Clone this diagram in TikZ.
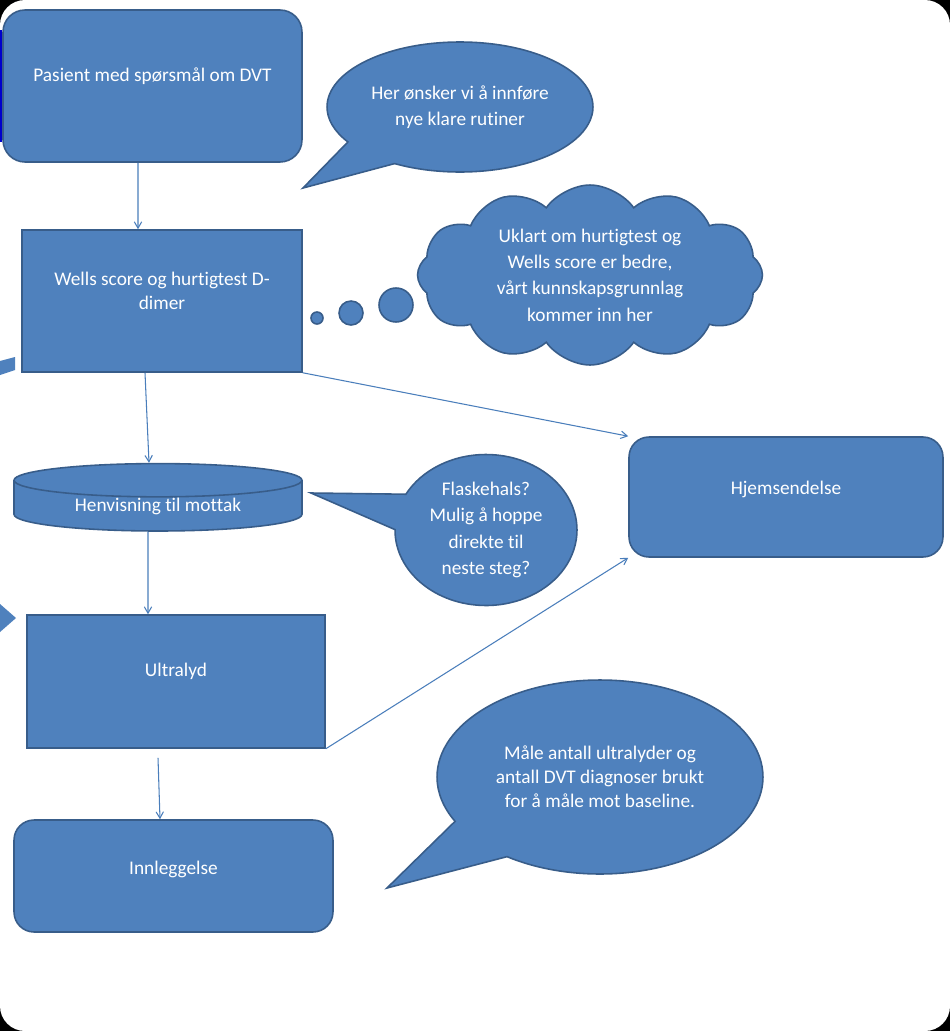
\documentclass[tikz,border=0pt]{standalone}
\usepackage{fontspec}
\setmainfont{Carlito}[Ligatures={NoCommon,NoRare,NoContextual},RawFeature={-liga;-clig;-calt}]
\usepackage{tikz}
\usetikzlibrary{shapes.geometric, shapes.symbols, shapes.callouts, positioning, arrows}
\definecolor{boxblue}{HTML}{4F81BD}
\definecolor{boxline}{HTML}{385D8A}
\definecolor{arrowblue}{HTML}{4A7EBB}

\begin{document}
\begin{tikzpicture}[x=0.02cm,y=-0.02cm,>=angle 60,
    main node/.style={draw=boxline,fill=boxblue,line width=0.9pt,text=white,align=center,inner sep=0pt,
                      font=\fontsize{11}{13.6}\selectfont},
    round node/.style={main node,rectangle,rounded corners=0.44cm},
    talk node/.style={main node,ellipse callout,callout pointer arc=28,font=\fontsize{11}{15}\selectfont},
    dot node/.style={main node,circle}]

        % page with black corners
        \fill[black] (0,0) rectangle (950,1031);
        \fill[white,rounded corners=0.5cm] (0,0) rectangle (950,1031);
        \useasboundingbox (0,0) rectangle (950,1031);

        % cut off bits at the left edge
        \fill[blue!80!black] (0,30) rectangle (2,142);
        \fill[boxblue] (0,361) -- (15,357) -- (15,370) -- (0,375) -- cycle;
        \fill[boxblue] (0,604) -- (16,618) -- (0,632) -- cycle;

        \node[round node,minimum width=5.98cm,minimum height=3.04cm,text depth=0.44cm] (1) at (152.5,86) {Pasient med spørsmål om DVT};
        \node[main node,rectangle,minimum width=5.6cm,minimum height=2.84cm,text depth=0.4cm] (2) at (162,301) {Wells score og hurtigtest D-\\dimer};
        \node[main node,cylinder,shape border rotate=90,aspect=0.2,minimum width=5.76cm,minimum height=1.34cm] (3) at (158,506) {Henvisning til mottak};
        \node[round node,rounded corners=0.4cm,minimum width=6.28cm,minimum height=2.4cm,text depth=0.36cm] (4) at (786,497) {Hjemsendelse};
        \node[main node,rectangle,minimum width=5.96cm,minimum height=2.66cm,text depth=0.46cm] (5) at (176,681.5) {Ultralyd};
        \node[round node,rounded corners=0.4cm,minimum width=6.38cm,minimum height=2.24cm,text depth=0.32cm] (6) at (173.5,876) {Innleggelse};

        \node[talk node,minimum width=5.32cm,minimum height=2.6cm,callout absolute pointer={(303,188)}] (t1) at (460,107) {Her ønsker vi å innføre\\nye klare rutiner};
        \node[main node,cloud,cloud puffs=12,cloud puff arc=110,aspect=1.9,minimum width=6.9cm,minimum height=3.6cm,
              font=\fontsize{11}{15}\selectfont] (t2) at (590,275) {Uklart om hurtigtest og\\Wells score er bedre,\\vårt kunnskapsgrunnlag\\kommer inn her};
        \node[dot node,minimum size=0.68cm] (d3) at (396,305) {};
        \node[dot node,minimum size=0.48cm] (d2) at (351,313) {};
        \node[dot node,minimum size=0.24cm] (d1) at (317,318) {};
        \node[talk node,minimum width=3.64cm,minimum height=3.02cm,callout absolute pointer={(311,493)}] (t3) at (486,530) {Flaskehals?\\Mulig å hoppe\\direkte til\\neste steg?};
        \node[talk node,font=\fontsize{11}{13.6}\selectfont,minimum width=6.52cm,minimum height=3.88cm,callout absolute pointer={(387,888)}] (t4) at (600,777) {Måle antall ultralyder og\\antall DVT diagnoser brukt\\for å måle mot baseline.};

        \path[->,color=arrowblue,line width=0.6pt]
          ([xshift=-0.29cm]1.south) edge ([xshift=-0.48cm]2.north)
          ([xshift=-0.34cm]2.south) edge ([xshift=-0.18cm]3.north)
          (2.south east) edge (4.north west)
          ([xshift=-0.2cm]3.south) edge ([xshift=-0.56cm]5.north)
          (5.south east) edge (4.south west)
          ([xshift=-0.36cm,yshift=-0.18cm]5.south) edge ([xshift=-0.27cm]6.north);
      \end{tikzpicture}
\end{document}
